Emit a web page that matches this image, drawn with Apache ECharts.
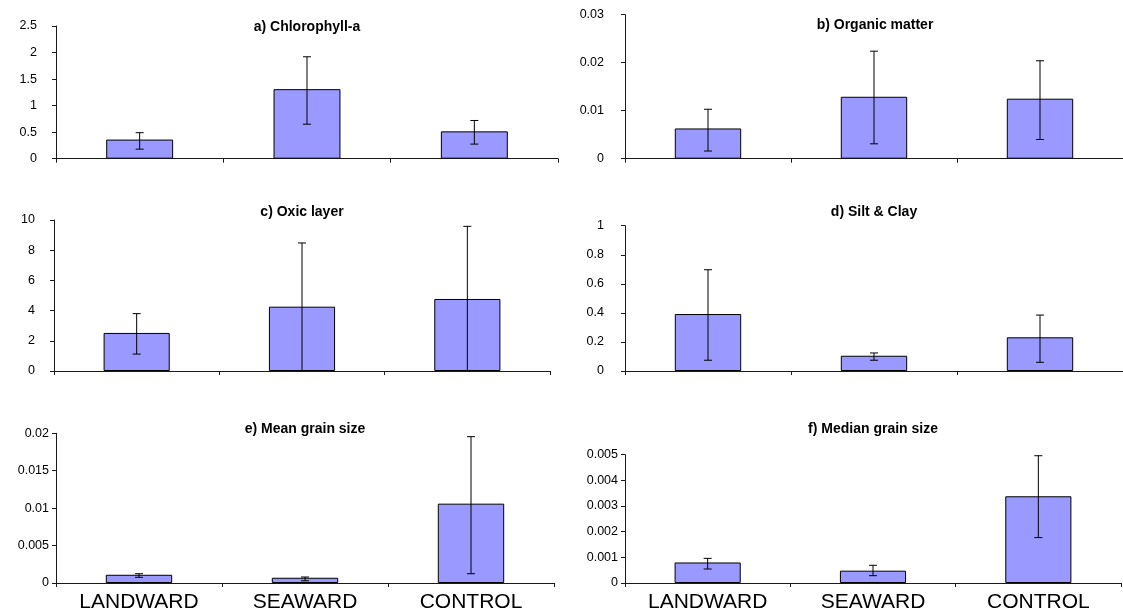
<!DOCTYPE html>
<html>
<head>
<meta charset="utf-8">
<script src="https://cdn.jsdelivr.net/npm/echarts@6/dist/echarts.min.js"></script>
<style>
  html, body { margin: 0; padding: 0; background: #fff; }
  #chart { width: 1123px; height: 613px; }
</style>
</head>
<body>
<div id="chart"></div>
<script>
// Sites sampled
const sites = ['LANDWARD', 'SEAWARD', 'CONTROL'];

// Panel titles
const titles = ['a) Chlorophyll-a', 'b) Organic matter', 'c) Oxic layer',
                'd) Silt & Clay', 'e) Mean grain size', 'f) Median grain size'];

// Means per site, with lower / upper ends of the error bars
const chlMean = [0.36, 1.31, 0.515];
const chlLow  = [0.18, 0.65, 0.275];
const chlHigh = [0.49, 1.92, 0.72];

const omMean = [0.0063, 0.0129, 0.0125];
const omLow  = [0.0016, 0.0031, 0.0040];
const omHigh = [0.0103, 0.0224, 0.0204];

const oxMean = [2.52, 4.26, 4.77];
const oxLow  = [1.12, 0, 0];
const oxHigh = [3.8, 8.48, 9.58];

const scMean = [0.392, 0.105, 0.232];
const scLow  = [0.074, 0.074, 0.06];
const scHigh = [0.697, 0.124, 0.385];

const mgMean = [0.0011, 0.0007, 0.0106];
const mgLow  = [0.00076, 0.0003, 0.00124];
const mgHigh = [0.00124, 0.0008, 0.01955];

const mdMean = [0.0008, 0.00048, 0.00338];
const mdLow  = [0.000545, 0.000285, 0.00177];
const mdHigh = [0.00096, 0.00069, 0.00496];

// Value-axis ranges: [max, interval]
const axisMax      = [2.5, 0.03, 10, 1, 0.02, 0.005];
const axisInterval = [0.5, 0.01, 2, 0.2, 0.005, 0.001];

const means = [chlMean, omMean, oxMean, scMean, mgMean, mdMean];
const lows  = [chlLow, omLow, oxLow, scLow, mgLow, mdLow];
const highs = [chlHigh, omHigh, oxHigh, scHigh, mgHigh, mdHigh];

// Plot-area boxes for the 3x2 panel layout
const boxes = [
  { left: 56,  top: 26,  width: 502, height: 132.7, titleY: 28,  labelGap: 19 },
  { left: 625, top: 14.7, width: 500, height: 144,  titleY: 26.5, labelGap: 21 },
  { left: 54,  top: 220, width: 496, height: 151,   titleY: 213, labelGap: 19 },
  { left: 625, top: 225.7, width: 498, height: 145.3, titleY: 213, labelGap: 21 },
  { left: 56,  top: 433.3, width: 498, height: 149.7, titleY: 430.5, labelGap: 7 },
  { left: 625, top: 454.7, width: 496, height: 128.3, titleY: 430, labelGap: 7 }
];

const FONT = '"Liberation Sans", Arial, sans-serif';
const AXIS_COLOR = '#1a1a1a';

const grid = [], xAxis = [], yAxis = [], series = [], title = [];

boxes.forEach((b, i) => {
  grid.push({ left: b.left, top: b.top, width: b.width, height: b.height, containLabel: false });

  title.push({
    text: titles[i],
    left: b.left + b.width / 2,
    top: b.titleY - 8,
    textAlign: 'center',
    padding: 0,
    textStyle: { fontFamily: FONT, fontSize: 14, fontWeight: 'bold', color: '#000' }
  });

  const bottomRow = i >= 4;
  xAxis.push({
    type: 'category',
    gridIndex: i,
    data: sites,
    boundaryGap: true,
    axisLine: { show: true, lineStyle: { color: AXIS_COLOR, width: 1 } },
    axisTick: { show: true, inside: false, length: 4, alignWithLabel: false, lineStyle: { color: AXIS_COLOR } },
    axisLabel: {
      show: bottomRow,
      margin: 9,
      fontFamily: FONT,
      fontSize: 21,
      color: '#000'
    },
    splitLine: { show: false }
  });

  yAxis.push({
    type: 'value',
    gridIndex: i,
    min: 0,
    max: axisMax[i],
    interval: axisInterval[i],
    axisLine: { show: true, lineStyle: { color: AXIS_COLOR, width: 1 } },
    axisTick: { show: true, inside: false, length: 4, lineStyle: { color: AXIS_COLOR } },
    axisLabel: {
      margin: b.labelGap,
      fontFamily: FONT,
      fontSize: 12.5,
      color: '#000',
      formatter: v => String(+v.toPrecision(6))
    },
    splitLine: { show: false }
  });

  series.push({
    type: 'bar',
    xAxisIndex: i,
    yAxisIndex: i,
    data: means[i],
    barWidth: '40%',
    itemStyle: { color: '#9999FF', borderColor: '#000', borderWidth: 1 },
    silent: true,
    animation: false
  });

  // Error bars: vertical whisker with caps, positioned through the axes
  series.push({
    type: 'custom',
    xAxisIndex: i,
    yAxisIndex: i,
    data: sites.map((s, k) => [k, lows[i][k], highs[i][k]]),
    encode: { x: 0, y: [1, 2] },
    z: 5,
    silent: true,
    animation: false,
    renderItem: (params, api) => {
      const lo = api.coord([api.value(0), api.value(1)]);
      const hi = api.coord([api.value(0), api.value(2)]);
      const cap = 4;
      const style = { stroke: '#000', lineWidth: 1 };
      const children = [
        { type: 'line', shape: { x1: hi[0], y1: hi[1], x2: lo[0], y2: lo[1] }, style },
        { type: 'line', shape: { x1: hi[0] - cap, y1: hi[1], x2: hi[0] + cap, y2: hi[1] }, style }
      ];
      if (api.value(1) > 0) {
        children.push({ type: 'line', shape: { x1: lo[0] - cap, y1: lo[1], x2: lo[0] + cap, y2: lo[1] }, style });
      }
      return { type: 'group', children };
    }
  });
});

const chart = echarts.init(document.getElementById('chart'), null, { renderer: 'canvas' });
chart.setOption({
  backgroundColor: '#fff',
  animation: false,
  title, grid, xAxis, yAxis, series
});
</script>
</body>
</html>
